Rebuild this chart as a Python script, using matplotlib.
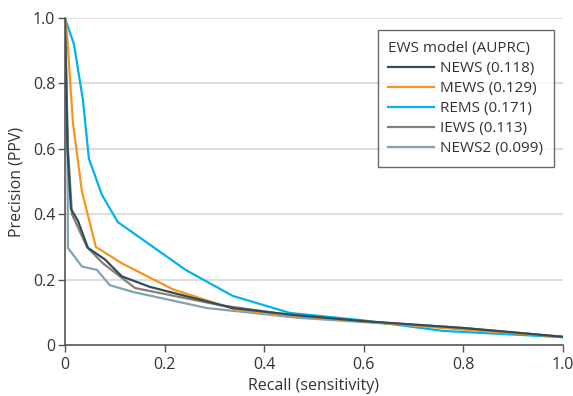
import matplotlib
matplotlib.use("Agg")
import matplotlib.pyplot as plt

# Precision-recall curves
news_recall = [0, 0.005, 0.012, 0.026, 0.046, 0.08, 0.114, 0.17, 0.257, 0.337, 0.458, 0.6, 0.8, 1.0]
news_prec = [1.0, 0.6, 0.416, 0.38, 0.297, 0.262, 0.21, 0.178, 0.144, 0.113, 0.092, 0.073, 0.052, 0.025]

mews_recall = [0, 0.004, 0.016, 0.034, 0.062, 0.114, 0.217, 0.345, 0.46, 0.6, 0.8, 1.0]
mews_prec = [1.0, 0.95, 0.68, 0.47, 0.30, 0.25, 0.17, 0.107, 0.09, 0.072, 0.047, 0.025]

rems_recall = [0, 0.018, 0.036, 0.048, 0.074, 0.106, 0.243, 0.337, 0.452, 0.6, 0.76, 1.0]
rems_prec = [1.0, 0.92, 0.75, 0.57, 0.46, 0.376, 0.229, 0.15, 0.098, 0.075, 0.043, 0.024]

iews_recall = [0, 0.006, 0.014, 0.044, 0.076, 0.141, 0.21, 0.311, 0.46, 0.6, 0.8, 1.0]
iews_prec = [1.0, 0.6, 0.40, 0.30, 0.25, 0.174, 0.153, 0.122, 0.09, 0.072, 0.052, 0.025]

news2_recall = [0, 0.005, 0.006, 0.034, 0.064, 0.09, 0.137, 0.285, 0.47, 0.6, 0.8, 1.0]
news2_prec = [1.0, 0.6, 0.297, 0.24, 0.23, 0.183, 0.162, 0.113, 0.083, 0.07, 0.05, 0.024]

labels = ["NEWS (0.118)", "MEWS (0.129)", "REMS (0.171)", "IEWS (0.113)", "NEWS2 (0.099)"]
colors = ["#2E4D5C", "#F7941D", "#00B2EE", "#8A7E72", "#7FA4B6"]

ticks = [0, 0.2, 0.4, 0.6, 0.8, 1.0]
tick_labels = ["0", "0.2", "0.4", "0.6", "0.8", "1.0"]

plt.rcParams["font.family"] = ["Open Sans", "DejaVu Sans"]

fig = plt.figure(figsize=(5.73, 3.96), dpi=100)
ax = fig.add_axes([0.1134, 0.1288, 0.8691, 0.8257])

curves = [
    (news_recall, news_prec),
    (mews_recall, mews_prec),
    (rems_recall, rems_prec),
    (iews_recall, iews_prec),
    (news2_recall, news2_prec),
]
# draw in reverse so NEWS ends up on top like the original
for (x, y), label, color in reversed(list(zip(curves, labels, colors))):
    ax.plot(x, y, color=color, lw=1.6, label=label, solid_joinstyle="miter")

ax.set_xlim(0, 1.0)
ax.set_ylim(0, 1.0)
ax.set_xticks(ticks)
ax.set_xticklabels(tick_labels)
ax.set_yticks(ticks)
ax.set_yticklabels(tick_labels)

for y in ticks[1:]:
    ax.axhline(y, color="#DDDDDD", lw=1.5, zorder=0)

for side in ["top", "right"]:
    ax.spines[side].set_visible(False)
for side in ["left", "bottom"]:
    ax.spines[side].set_color("#555555")
    ax.spines[side].set_linewidth(1.2)
ax.tick_params(direction="out", length=5, width=1, color="#555555",
               labelsize=11.5, labelcolor="#333333")
ax.tick_params(axis="y", pad=2)

ax.set_xlabel("Recall (sensitivity)", fontsize=11.5, color="#333333", labelpad=4)
ax.set_ylabel("Precision (PPV)", fontsize=11.5, color="#333333", labelpad=6)

handles, leg_labels = ax.get_legend_handles_labels()
leg = ax.legend(handles[::-1], leg_labels[::-1], title="EWS model (AUPRC)",
                loc="upper right", bbox_to_anchor=(0.982, 0.963), borderaxespad=0,
                fontsize=11, title_fontsize=11, frameon=True, fancybox=False,
                handlelength=3.0, handletextpad=0.4, labelspacing=0.33,
                borderpad=0.7, alignment="left")
leg.get_frame().set_edgecolor("#444444")
leg.get_frame().set_linewidth(1.0)
for t in leg.get_texts():
    t.set_color("#333333")
leg.get_title().set_color("#333333")

fig.savefig("out.png", dpi=100)
